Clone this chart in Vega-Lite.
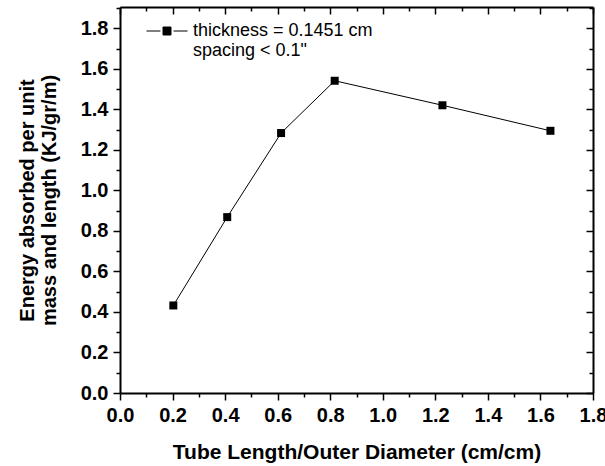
{
  "$schema": "https://vega.github.io/schema/vega-lite/v6.json",
  "autosize": "none",
  "width": 473,
  "height": 386,
  "padding": {"left": 120, "top": 7, "right": 12, "bottom": 73},
  "background": "white",
  "config": {
    "view": {"stroke": null},
    "font": "Liberation Sans",
    "axis": {
      "grid": false,
      "domainColor": "black",
      "domainWidth": 2,
      "tickColor": "black",
      "tickWidth": 1.5,
      "labelColor": "black",
      "labelFont": "Liberation Sans",
      "labelFontWeight": "bold",
      "labelFontSize": 20,
      "titleFont": "Liberation Sans",
      "titleFontWeight": "bold",
      "titleFontSize": 20,
      "titleColor": "black",
      "labelFlush": false,
      "labelOverlap": false
    }
  },
  "data": {
    "values": [
      {"ratio": 0.203, "energy": 0.432, "series": "thickness = 0.1451 cm"},
      {"ratio": 0.408, "energy": 0.868, "series": "thickness = 0.1451 cm"},
      {"ratio": 0.613, "energy": 1.283, "series": "thickness = 0.1451 cm"},
      {"ratio": 0.817, "energy": 1.541, "series": "thickness = 0.1451 cm"},
      {"ratio": 1.227, "energy": 1.42, "series": "thickness = 0.1451 cm"},
      {"ratio": 1.638, "energy": 1.294, "series": "thickness = 0.1451 cm"}
    ]
  },
  "resolve": {"axis": {"x": "independent", "y": "independent"}},
  "layer": [
    {
      "mark": {"type": "line", "color": "black", "strokeWidth": 1},
      "encoding": {
        "x": {
          "field": "ratio", "type": "quantitative",
          "scale": {"domain": [0, 1.8], "nice": false, "zero": false},
          "axis": {
            "orient": "bottom",
            "values": [0, 0.1, 0.2, 0.3, 0.4, 0.5, 0.6, 0.7, 0.8, 0.9, 1.0, 1.1, 1.2, 1.3, 1.4, 1.5, 1.6, 1.7, 1.8],
            "labelExpr": "round(datum.value * 10) % 2 === 0 ? format(datum.value, '.1f') : ''",
            "tickSize": {"condition": {"test": "round(datum.value * 10) % 2 === 0", "value": 7}, "value": 4},
            "labelPadding": 5,
            "title": "Tube Length/Outer Diameter (cm/cm)",
            "titleFontSize": 21,
            "titlePadding": 16
          }
        },
        "y": {
          "field": "energy", "type": "quantitative",
          "scale": {"domain": [0, 1.905], "nice": false, "zero": false},
          "axis": {
            "orient": "left",
            "values": [0, 0.1, 0.2, 0.3, 0.4, 0.5, 0.6, 0.7, 0.8, 0.9, 1.0, 1.1, 1.2, 1.3, 1.4, 1.5, 1.6, 1.7, 1.8, 1.9],
            "labelExpr": "round(datum.value * 10) % 2 === 0 ? format(datum.value, '.1f') : ''",
            "tickSize": {"condition": {"test": "round(datum.value * 10) % 2 === 0", "value": 7}, "value": 4},
            "labelPadding": 5,
            "title": ["Energy absorbed per unit", "mass and length (KJ/gr/m)"],
            "titleLineHeight": 22,
            "titlePadding": 21
          }
        }
      }
    },
    {
      "mark": {"type": "point", "shape": "square", "filled": true, "size": 64, "opacity": 1},
      "encoding": {
        "x": {
          "field": "ratio", "type": "quantitative",
          "axis": {
            "orient": "top",
            "values": [0, 0.1, 0.2, 0.3, 0.4, 0.5, 0.6, 0.7, 0.8, 0.9, 1.0, 1.1, 1.2, 1.3, 1.4, 1.5, 1.6, 1.7, 1.8],
            "labels": false,
            "tickSize": {"condition": {"test": "round(datum.value * 10) % 2 === 0", "value": -7}, "value": -4},
            "title": null
          }
        },
        "y": {
          "field": "energy", "type": "quantitative",
          "axis": {
            "orient": "right",
            "values": [0, 0.1, 0.2, 0.3, 0.4, 0.5, 0.6, 0.7, 0.8, 0.9, 1.0, 1.1, 1.2, 1.3, 1.4, 1.5, 1.6, 1.7, 1.8, 1.9],
            "labels": false,
            "tickSize": {"condition": {"test": "round(datum.value * 10) % 2 === 0", "value": -7}, "value": -4},
            "title": null
          }
        },
        "color": {
          "field": "series", "type": "nominal",
          "scale": {"range": ["black"]},
          "legend": {
            "orient": "none",
            "legendX": 26,
            "legendY": 3,
            "title": null,
            "symbolType": "M-1,0H-0.32M0.32,0H1M-0.195,-0.195H0.195V0.195H-0.195Z",
            "symbolSize": 1681,
            "symbolFillColor": "black",
            "symbolStrokeColor": "black",
            "symbolStrokeWidth": 1,
            "symbolOpacity": 1,
            "labelFont": "Liberation Sans",
            "labelFontSize": 18,
            "labelColor": "black",
            "labelOffset": 5,
            "labelLimit": 400,
            "labelBaseline": "middle",
            "labelLineHeight": 22,
            "labelExpr": "[datum.label, '\u00a0spacing < 0.1\"']"
          }
        }
      }
    }
  ]
}
